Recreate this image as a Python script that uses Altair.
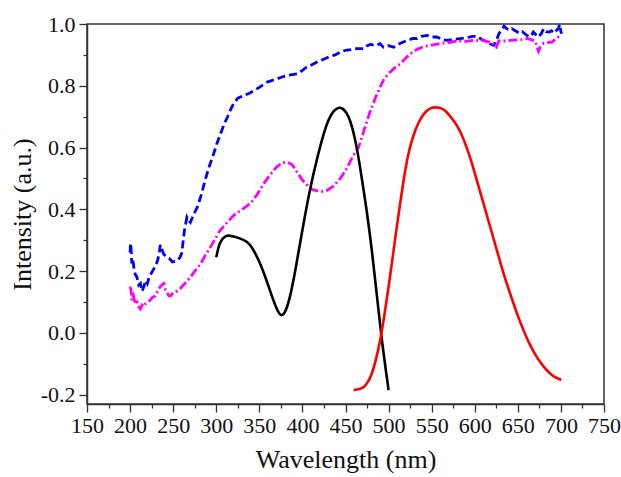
import altair as alt
import pandas as pd

# ---------------- data ----------------
blue_x = [200, 200.5, 201, 202, 203, 205, 206, 208, 210, 212,
          214, 216, 218, 220, 222, 224, 226, 228, 230, 232,
          234, 235, 237, 239, 241, 243, 246, 249, 252, 255,
          258, 260, 263, 266, 268, 270, 274, 278, 283, 287,
          292, 297, 301, 305, 309, 313, 317, 320, 325, 332,
          338, 344, 350, 359, 368, 378, 386, 394, 400, 405,
          411, 417, 424, 432, 438, 444, 450, 456, 463, 471,
          475, 479, 485, 490, 494, 500, 506, 512, 517, 523,
          528, 533, 538, 545, 550, 556, 562, 568, 575, 583,
          590, 597, 603, 608, 614, 618, 622, 625, 628, 631,
          634, 637, 640, 643, 646, 649, 652, 655, 658, 661,
          663, 666, 668, 671, 674, 677, 680, 683, 686, 689,
          692, 695, 697, 698.5, 700, 701]
blue_y = [0.26, 0.29, 0.28, 0.225, 0.24, 0.2, 0.19, 0.18, 0.155, 0.16,
          0.135, 0.15, 0.17, 0.16, 0.18, 0.19, 0.2, 0.21, 0.22, 0.235,
          0.26, 0.285, 0.27, 0.255, 0.25, 0.245, 0.24, 0.23, 0.232, 0.234,
          0.245, 0.26, 0.33, 0.375, 0.365, 0.358, 0.385, 0.407, 0.45, 0.494,
          0.54, 0.58, 0.615, 0.645, 0.675, 0.699, 0.725, 0.742, 0.76, 0.769,
          0.775, 0.785, 0.795, 0.812, 0.82, 0.83, 0.835, 0.839, 0.85, 0.861,
          0.868, 0.877, 0.885, 0.895, 0.9, 0.909, 0.915, 0.917, 0.92, 0.92,
          0.93, 0.934, 0.93, 0.936, 0.925, 0.93, 0.925, 0.935, 0.942, 0.948,
          0.953, 0.953, 0.96, 0.963, 0.958, 0.958, 0.95, 0.947, 0.95, 0.953,
          0.955, 0.96, 0.96, 0.95, 0.942, 0.935, 0.931, 0.945, 0.969, 0.98,
          0.993, 0.985, 0.98, 0.985, 0.98, 0.975, 0.97, 0.975, 0.969, 0.962,
          0.958, 0.965, 0.974, 0.965, 0.958, 0.968, 0.985, 0.975, 0.974, 0.978,
          0.97, 0.98, 0.985, 0.999, 0.975, 0.969]

magenta_x = [200, 201, 202, 204, 206, 208, 210, 212, 214, 216,
             218, 220, 223, 226, 229, 232, 235, 237, 239, 241,
             243, 245, 247, 250, 254, 258, 262, 266, 270, 275,
             281, 287, 293, 298, 303, 310, 320, 330, 340, 348,
             355, 362, 370, 376, 382, 388, 394, 400, 405, 411,
             417, 423, 429, 436, 444, 452, 459, 465, 472, 479,
             486, 494, 500, 507, 514, 520, 526, 533, 541, 550,
             560, 570, 580, 590, 600, 605, 610, 615, 620, 623,
             625, 628, 635, 645, 655, 661, 667, 670, 672, 674,
             676, 680, 685, 690, 695, 698, 700]
magenta_y = [0.15, 0.14, 0.105, 0.12, 0.094, 0.1, 0.085, 0.078, 0.09, 0.085,
             0.095, 0.1, 0.105, 0.115, 0.12, 0.135, 0.15, 0.155, 0.16, 0.14,
             0.13, 0.12, 0.12, 0.13, 0.135, 0.143, 0.155, 0.168, 0.18, 0.2,
             0.22, 0.25, 0.277, 0.3, 0.326, 0.35, 0.38, 0.40, 0.42, 0.45,
             0.483, 0.51, 0.537, 0.55, 0.553, 0.545, 0.52, 0.495, 0.48, 0.465,
             0.46, 0.458, 0.462, 0.475, 0.5, 0.535, 0.575, 0.6, 0.66, 0.72,
             0.77, 0.818, 0.84, 0.858, 0.872, 0.89, 0.905, 0.918, 0.927, 0.932,
             0.937, 0.94, 0.945, 0.944, 0.948, 0.946, 0.948, 0.943, 0.94, 0.928,
             0.925, 0.945, 0.945, 0.948, 0.95, 0.953, 0.948, 0.945, 0.93, 0.912,
             0.925, 0.938, 0.94, 0.942, 0.955, 0.96, 0.955]

black_x = [300, 303, 307, 312, 320, 328, 336, 342, 348, 355,
           362, 368.5, 375, 381, 386, 391, 396, 401, 409, 417,
           424.6, 430, 436, 443, 448, 453.6, 458, 463.3, 469, 475,
           481, 486.5, 492.3, 500]
black_y = [0.245, 0.285, 0.305, 0.318, 0.312, 0.306, 0.296, 0.275, 0.243, 0.198,
           0.14, 0.088, 0.048, 0.07, 0.12, 0.19, 0.27, 0.35, 0.47, 0.565,
           0.645, 0.69, 0.72, 0.732, 0.725, 0.702, 0.665, 0.6, 0.5, 0.39,
           0.26, 0.12, -0.03, -0.185]

red_x = [459.4, 465, 471, 476, 480.7, 485, 490.4, 495, 500, 505,
         509.8, 515, 519.4, 524, 529, 534, 538.8, 544, 548.4, 554,
         560, 565, 569.6, 576, 583.2, 590, 596.8, 603, 610.3, 618,
         625.8, 633, 641.2, 649, 656.7, 664, 672.2, 680, 687.7, 694,
         700.4]
red_y = [-0.185, -0.183, -0.178, -0.16, -0.133, -0.09, -0.025, 0.055, 0.148, 0.25,
         0.35, 0.45, 0.53, 0.595, 0.642, 0.677, 0.702, 0.719, 0.728, 0.731,
         0.729, 0.722, 0.708, 0.686, 0.654, 0.606, 0.55, 0.488, 0.418, 0.342,
         0.267, 0.195, 0.126, 0.062, 0.007, -0.04, -0.08, -0.11, -0.133, -0.145,
         -0.152]

x_major = [150, 200, 250, 300, 350, 400, 450, 500, 550, 600, 650, 700, 750]
x_minor = [175, 225, 275, 325, 375, 425, 475, 525, 575, 625, 675, 725]
y_major = [-0.2, 0.0, 0.2, 0.4, 0.6, 0.8, 1.0]
y_minor = [-0.1, 0.1, 0.3, 0.5, 0.7, 0.9]

# ---------------- chart ----------------
FONT = "Liberation Serif"
AX = "#333333"

blue = pd.DataFrame({"x": blue_x, "y": blue_y})
magenta = pd.DataFrame({"x": magenta_x, "y": magenta_y})
black = pd.DataFrame({"x": black_x, "y": black_y})
red = pd.DataFrame({"x": red_x, "y": red_y})

xscale = alt.Scale(domain=[150, 750], nice=False, zero=False)
yscale = alt.Scale(domain=[-0.23, 1.0], nice=False, zero=False)

x_axis = alt.Axis(values=x_major, format="d", title="Wavelength (nm)",
                  tickSize=8, tickWidth=1.3, labelPadding=3, titlePadding=10,
                  labelFontSize=22, titleFontSize=26, domainWidth=1.5,
                  labelFlush=False, labelOverlap=False)
y_axis = alt.Axis(values=y_major, title="Intensity (a.u.)",
                  labelExpr="replace(format(datum.value, '.1f'), '\u2212', '-')",
                  tickSize=8, tickWidth=1.3, labelPadding=4, titlePadding=5,
                  labelFontSize=22, titleFontSize=26, domainWidth=1.5,
                  labelFlush=False, labelOverlap=False)

x_minor_axis = alt.Axis(values=x_minor, labels=False, title=None, tickSize=4,
                        tickWidth=1.3, domain=False, orient="bottom")
y_minor_axis = alt.Axis(values=y_minor, labels=False, title=None, tickSize=4,
                        tickWidth=1.3, domain=False, orient="left")

l_blue = alt.Chart(blue).mark_line(color="#0000FF", strokeWidth=2.8,
                                   strokeDash=[8, 4]).encode(
    x=alt.X("x:Q", scale=xscale, axis=x_axis),
    y=alt.Y("y:Q", scale=yscale, axis=y_axis),
)
l_magenta = alt.Chart(magenta).mark_line(color="#FF00FF", strokeWidth=2.8,
                                         strokeDash=[9, 3, 2, 3]).encode(
    x=alt.X("x:Q", scale=xscale, axis=None),
    y=alt.Y("y:Q", scale=yscale, axis=None),
)
l_black = alt.Chart(black).mark_line(color="#000000", strokeWidth=2.6,
                                     interpolate="basis").encode(
    x=alt.X("x:Q", scale=xscale, axis=None),
    y=alt.Y("y:Q", scale=yscale, axis=None),
)
l_red = alt.Chart(red).mark_line(color="#FF0000", strokeWidth=2.6,
                                 interpolate="basis").encode(
    x=alt.X("x:Q", scale=xscale, axis=None),
    y=alt.Y("y:Q", scale=yscale, axis=None),
)
l_minor = alt.Chart(blue).mark_line(opacity=0).encode(
    x=alt.X("x:Q", scale=xscale, axis=x_minor_axis),
    y=alt.Y("y:Q", scale=yscale, axis=y_minor_axis),
)

chart = alt.layer(l_blue, l_magenta, l_black, l_red, l_minor).resolve_axis(
    x="independent", y="independent"
).properties(
    width=517, height=380,
    autosize=alt.AutoSizeParams(type="none"),
    padding={"left": 87, "top": 24, "right": 17, "bottom": 73},
    background="white",
).configure_view(
    stroke=AX, strokeWidth=1.5
).configure_axis(
    grid=False, domainColor=AX, tickColor=AX,
    labelColor="#111111", titleColor="#111111",
    labelFont=FONT, titleFont=FONT, titleFontWeight="normal",
)

chart.save("out.html", embed_options={"renderer": "svg", "actions": False})
